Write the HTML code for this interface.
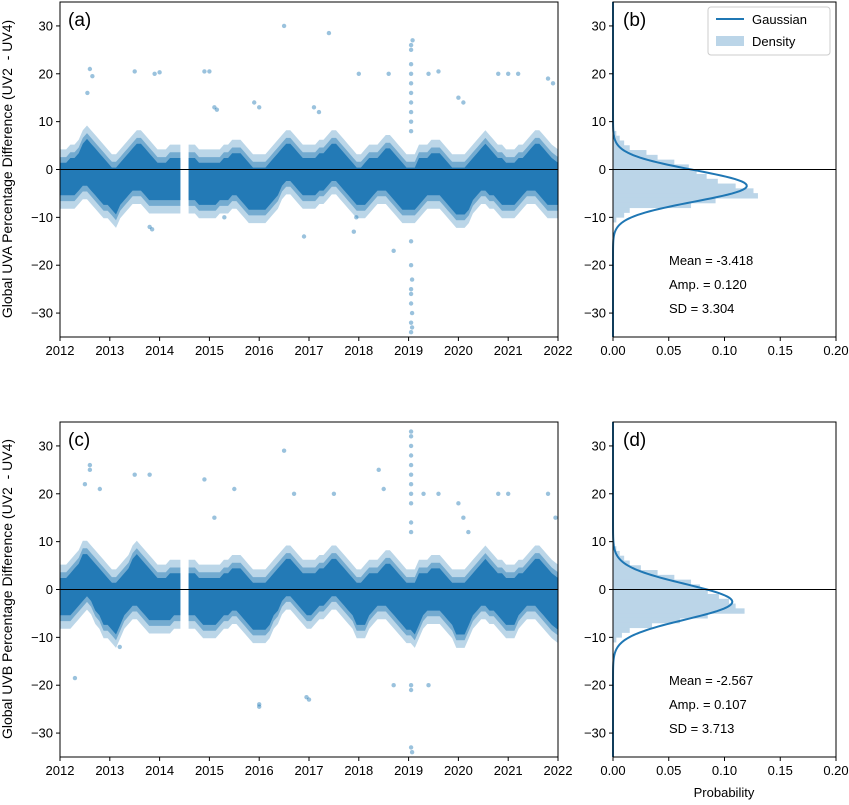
<!DOCTYPE html>
<html><head><meta charset="utf-8"><style>
body{margin:0;background:#fff}
svg text{font-family:"Liberation Sans",sans-serif;fill:#000}
</style></head><body>
<svg id="fig" width="849" height="800" viewBox="0 0 849 800" xmlns="http://www.w3.org/2000/svg"></svg>
<script>
// ---------- data ----------
const yearTicks=[2012,2013,2014,2015,2016,2017,2018,2019,2020,2021,2022];
const yTicks=[-30,-20,-10,0,10,20,30];
const probTicks=[0,0.05,0.1,0.15,0.2];
const probTickLabels=["0.00","0.05","0.10","0.15","0.20"];
// monthly upper/lower envelope of UVA scatter (2012-01 .. 2021-12)
const uvaHi=[2,2,3,3,4,6,7,6,5,4,3,2, 1,1,2,3,4,5,6,6,5,4,3,2, 2,2,3,3,3,null,null,3,3,2,2,2, 2,2,2,3,3,4,4,4,3,2,1,1, 1,1,2,3,4,5,6,6,5,4,3,3, 3,3,4,4,5,6,6,5,4,3,2,1, 1,2,3,3,3,4,5,5,4,3,2,1, 1,1,3,3,3,4,4,4,3,2,1,1, 1,1,2,3,4,5,6,5,4,3,3,2, 2,2,3,3,4,5,6,6,5,4,3,2];
const uvaLo=[-6,-6,-6,-6,-5,-4,-4,-5,-6,-7,-8,-8, -9,-10,-8,-7,-6,-5,-5,-5,-6,-7,-7,-7, -7,-7,-7,-7,-7,null,null,-7,-7,-8,-8,-8, -8,-8,-7,-7,-7,-6,-6,-7,-8,-9,-9,-9, -9,-9,-8,-7,-6,-4,-3,-3,-4,-5,-6,-6, -6,-6,-5,-5,-4,-3,-3,-4,-5,-6,-7,-8, -8,-8,-7,-6,-5,-5,-5,-6,-7,-8,-9,-9, -9,-9,-8,-7,-6,-6,-6,-6,-7,-8,-9,-10, -10,-10,-9,-7,-6,-5,-5,-6,-6,-7,-8,-8, -8,-8,-7,-6,-5,-5,-5,-6,-7,-8,-8,-8];
const uvbHi=[3,3,4,5,6,8,8,7,6,5,4,3, 2,2,3,4,5,7,8,7,6,5,4,3, 3,3,4,4,4,null,null,4,4,3,3,3, 3,3,3,4,4,5,5,5,4,3,2,2, 2,2,3,4,5,6,7,7,6,5,4,4, 4,4,5,5,6,7,7,6,5,4,3,2, 2,3,4,4,4,5,6,6,5,4,3,2, 2,2,4,4,4,5,5,5,4,3,2,2, 2,2,3,4,5,6,7,6,5,4,4,3, 3,3,4,4,5,6,7,7,6,5,4,3];
const uvbLo=[-6,-6,-6,-5,-4,-3,-2,-3,-5,-6,-8,-8, -9,-10,-8,-6,-5,-4,-4,-5,-6,-7,-7,-7, -7,-7,-7,-6,-6,null,null,-6,-6,-7,-8,-8, -8,-8,-7,-6,-6,-5,-5,-6,-7,-8,-9,-9, -9,-9,-8,-6,-5,-3,-2,-2,-3,-4,-5,-6, -6,-5,-4,-4,-3,-2,-2,-3,-4,-5,-6,-8, -8,-8,-6,-5,-4,-4,-4,-5,-6,-7,-8,-9, -9,-10,-8,-6,-5,-5,-5,-5,-6,-7,-8,-10, -10,-10,-8,-6,-5,-4,-4,-5,-5,-6,-7,-8, -8,-8,-6,-5,-4,-4,-4,-5,-6,-7,-8,-9];
const uvaOutT=[2012.6,2012.65,2012.55,2013.5,2013.9,2014.0,2014.9,2015.0,2015.1,2015.15,2015.9,2016.0,2016.5,2017.4,2017.1,2017.2,2018.0,2018.6,2019.05,2019.05,2019.05,2019.05,2019.05,2019.05,2019.08,2019.4,2019.6,2020.0,2020.1,2020.8,2021.0,2021.2,2021.8,2021.9,2016.9,2017.9,2017.95,2018.7,2019.05,2019.07,2019.05,2019.05,2019.05,2019.07,2019.05,2019.07,2019.05,2013.8,2013.85,2019.05,2019.05,2019.05,2015.3,2019.05,2019.05];
const uvaOutV=[21,19.5,16,20.5,20,20.3,20.5,20.5,13,12.5,14,13,30,28.5,13,12,20,20,26,25,22,20,18,16,27,20,20.5,15,14,20,20,20,19,18,-14,-13,-10,-17,-20,-23,-25,-26,-28,-30,-32,-33,-34,-12,-12.5,10,8,12,-10,14,-15];
const uvbOutT=[2012.6,2012.6,2012.5,2012.8,2013.5,2013.8,2014.9,2015.1,2015.5,2016.5,2016.7,2017.5,2018.4,2018.5,2019.05,2019.05,2019.05,2019.05,2019.05,2019.05,2019.05,2019.05,2019.05,2019.3,2019.6,2020.0,2020.1,2020.2,2020.8,2021.0,2021.8,2021.95,2012.3,2016.0,2016.0,2016.95,2017.0,2018.7,2019.05,2019.05,2019.05,2019.07,2013.2,2019.4,2019.05,2019.05];
const uvbOutV=[26,25,22,21,24,24,23,15,21,29,20,20,25,21,33,32,30,28,26,24,22,20,18,20,20,18,15,12,20,20,20,15,-18.5,-24,-24.5,-22.5,-23,-20,-20,-21,-33,-34,-12,-20,12,14];
// histogram bins (lower edge) and densities
const binLo=[7,6,5,4,3,2,1,0,-1,-2,-3,-4,-5,-6,-7,-8,-9,-10,-11];
const uvaDens=[0.003,0.006,0.010,0.015,0.030,0.040,0.055,0.068,0.075,0.084,0.094,0.110,0.126,0.130,0.092,0.070,0.015,0.010,0.003];
const binLoD=[8,7,6,5,4,3,2,1,0,-1,-2,-3,-4,-5,-6,-7,-8,-9,-10,-11];
const uvbDens=[0.003,0.006,0.010,0.015,0.025,0.040,0.055,0.070,0.078,0.085,0.095,0.104,0.110,0.118,0.085,0.060,0.035,0.015,0.008,0.003];
const uvaStats=[-3.418,0.120,3.304];
const uvbStats=[-2.567,0.107,3.713];

// ---------- drawing ----------
const NS="http://www.w3.org/2000/svg";
const svg=document.getElementById('fig');
const BLUE="#1f77b4";
function mk(tag,attrs,parent){const e=document.createElementNS(NS,tag);for(const k in attrs)e.setAttribute(k,attrs[k]);(parent||svg).appendChild(e);return e;}
function txt(s,x,y,size,anchor,parent){const t=mk('text',{x:x,y:y,'font-size':size,'text-anchor':anchor||'start'},parent);t.textContent=s;return t;}

function bandPaths(hi,lo,xs,ys,pad){
  // split into continuous segments, build smooth polygons through month centres
  const segs=[];let cur=[];
  for(let i=0;i<hi.length;i++){if(hi[i]===null){if(cur.length)segs.push(cur);cur=[];}else cur.push(i);}
  if(cur.length)segs.push(cur);
  return segs.map(seg=>{
    const top=[],bot=[];
    seg.forEach((i,k)=>{
      let x=xs(2012+(i+0.5)/12);
      if(k===0)x=xs(2012+i/12);
      if(k===seg.length-1)x=xs(2012+(i+1)/12);
      top.push(x.toFixed(1)+','+ys(hi[i]+pad).toFixed(1));
      bot.unshift(x.toFixed(1)+','+ys(lo[i]-pad).toFixed(1));
    });
    return 'M'+top.join('L')+'L'+bot.join('L')+'Z';
  });
}

function scatterPanel(top,hi,lo,outT,outV,label,name){
  const L=60,R=558,B=top+335;
  const xs=t=>L+(t-2012)/10*(R-L);
  const ys=v=>top+167.5-(v)*(335/70);
  const g=mk('g',{});
  
  
  bandPaths(hi,lo,xs,ys,2.2).forEach(d=>{
    const f=mk('path',{d:d,fill:BLUE,'fill-opacity':0.3},g);
    
    
  });
  bandPaths(hi,lo,xs,ys,0.6).forEach(d=>{
    const f=mk('path',{d:d,fill:BLUE,'fill-opacity':0.45},g);
    
    
  });
  bandPaths(hi,lo,xs,ys,-0.6).forEach(d=>{
    const r=mk('path',{d:d,fill:BLUE,'fill-opacity':0.95},g);
    
    
  });
  for(let i=0;i<outT.length;i++){
    const c=mk('circle',{cx:xs(outT[i]),cy:ys(outV[i]),r:2.2,fill:BLUE,'fill-opacity':0.45},g);
    
    
  }
  const z=mk('line',{x1:L,x2:R,y1:ys(0),y2:ys(0),stroke:'#000','stroke-width':0.9},g);
  
  
  const fr=mk('rect',{x:L,y:top,width:R-L,height:335,fill:'none',stroke:'#000','stroke-width':1},g);
  
  
  yearTicks.forEach(yr=>{const x=xs(yr);mk('line',{x1:x,x2:x,y1:B,y2:B+4,stroke:'#000'},g);
    const t=txt(String(yr),x,B+18,13,'middle',g);});
  yTicks.forEach(v=>{const y=ys(v);mk('line',{x1:L-4,x2:L,y1:y,y2:y,stroke:'#000'},g);
    const t=txt(String(v).replace('-','\u2212'),L-7,y+4.5,13,'end',g);});
  const pl=txt(label,68,top+24,19,'start',g);
  
  
}

function histPanel(top,bins,dens,stats,label,name,legend){
  const L=613,R=836;
  const xs=p=>L+p/0.2*(R-L);
  const ys=v=>top+167.5-(v)*(335/70);
  const g=mk('g',{});
  
  
  for(let i=0;i<bins.length;i++){
    const r=mk('rect',{x:L,y:ys(bins[i]+1)-0.3,width:xs(dens[i])-L,height:ys(bins[i])-ys(bins[i]+1)+0.6,fill:'#bbd5e8'},g);
    
    
  }
  const [m,a,s]=stats;
  let d='';
  for(let v=-35;v<=35;v+=0.25){const p=a*Math.exp(-(v-m)*(v-m)/(2*s*s));d+=(d?'L':'M')+xs(p).toFixed(2)+','+ys(v).toFixed(2);}
  const c=mk('path',{d:d,fill:'none',stroke:BLUE,'stroke-width':2},g);
  
  
  const z=mk('line',{x1:L,x2:R,y1:ys(0),y2:ys(0),stroke:'#000','stroke-width':0.9},g);
  
  
  const fr=mk('rect',{x:L,y:top,width:R-L,height:335,fill:'none',stroke:'#000','stroke-width':1},g);
  
  
  const B=top+335;
  probTicks.forEach((p,i)=>{const x=xs(p);mk('line',{x1:x,x2:x,y1:B,y2:B+4,stroke:'#000'},g);
    const t=txt(probTickLabels[i],x,B+18,13,'middle',g);});
  yTicks.forEach(v=>{const y=ys(v);mk('line',{x1:L-4,x2:L,y1:y,y2:y,stroke:'#000'},g);
    const t=txt(String(v).replace('-','\u2212'),L-7,y+4.5,13,'end',g);});
  const pl=txt(label,623,top+24,19,'start',g);
  
  
  const s1=txt('Mean = '+m.toFixed(3),669,top+263,13,'start',g);
  
  
  const s2=txt('Amp. = '+a.toFixed(3),669,top+287,13,'start',g);
  
  
  const s3=txt('SD = '+s.toFixed(3),669,top+311,13,'start',g);
  
  
  if(legend){
    const lg=mk('g',{},g);
    
    
    mk('rect',{x:708,y:top+5,width:122,height:48,rx:3,fill:'#fff','fill-opacity':0.8,stroke:'#ccc'},lg);
    mk('line',{x1:716,x2:744,y1:top+17,y2:top+17,stroke:BLUE,'stroke-width':2},lg);
    const e1=txt('Gaussian',752,top+22,13,'start',lg);
    
    
    mk('rect',{x:716,y:top+34,width:28,height:10,fill:'#bbd5e8'},lg);
    const e2=txt('Density',752,top+44,13,'start',lg);
    
    
  }
}

scatterPanel(2,uvaHi,uvaLo,uvaOutT,uvaOutV,'(a)','uva-scatter-panel');
histPanel(2,binLo,uvaDens,uvaStats,'(b)','uva-histogram-panel',true);
scatterPanel(422,uvbHi,uvbLo,uvbOutT,uvbOutV,'(c)','uvb-scatter-panel');
histPanel(422,binLoD,uvbDens,uvbStats,'(d)','uvb-histogram-panel',false);

const yl1=txt('Global UVA Percentage Difference (UV2\u00a0\u00a0- UV4)',0,0,14,'middle');
yl1.setAttribute('transform','translate(12,169) rotate(-90)');


const yl2=txt('Global UVB Percentage Difference (UV2\u00a0\u00a0- UV4)',0,0,14,'middle');
yl2.setAttribute('transform','translate(12,589) rotate(-90)');


const xl=txt('Probability',724,797,13,'middle');


</script>
</body></html>
